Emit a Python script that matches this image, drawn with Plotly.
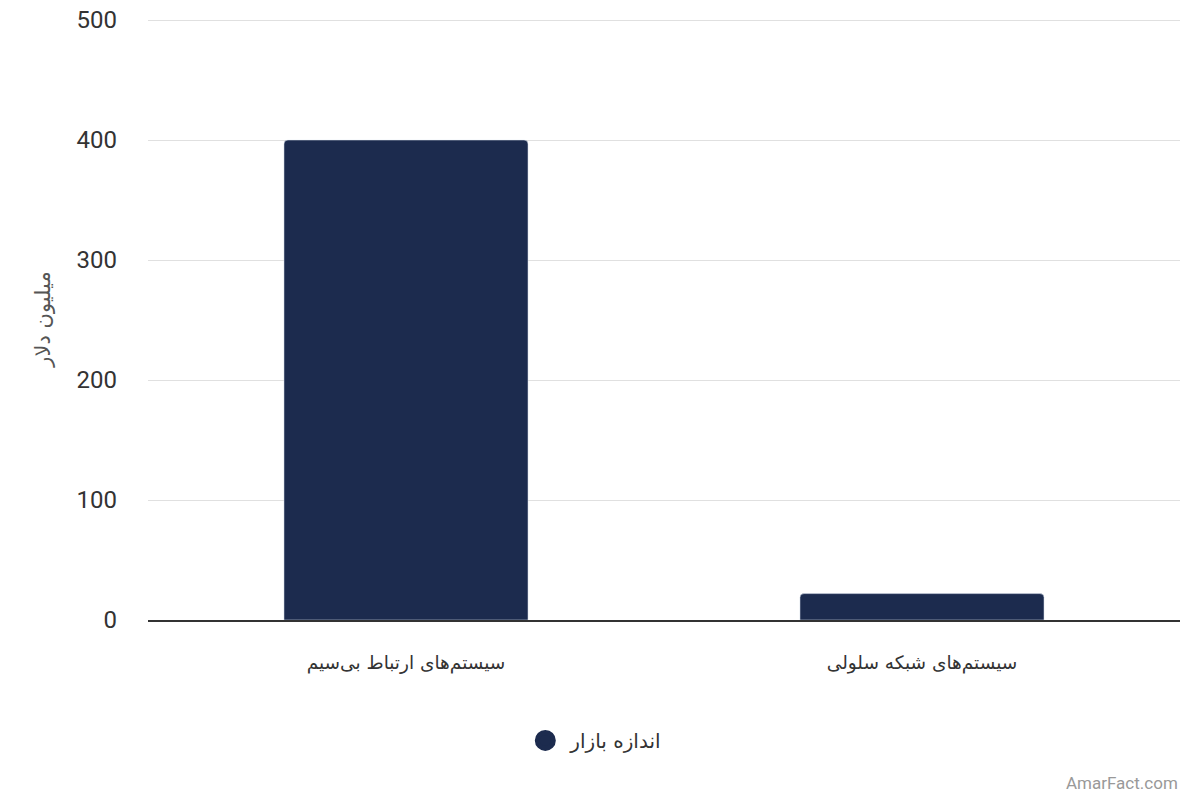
import plotly.graph_objects as go

# data
categories = ["سیستم‌های ارتباط بی‌سیم", "سیستم‌های شبکه سلولی"]
market_size = [400, 22]
series_name = "اندازه بازار"
y_title = "میلیون دلار"
y_ticks = [0, 100, 200, 300, 400, 500]
bar_color = "#1c2b4e"

fig = go.Figure()
fig.add_trace(go.Bar(
    x=categories,
    y=market_size,
    marker={'color': bar_color},
    showlegend=False,
    hoverinfo='x+y'
))
# dummy trace only to get the round legend symbol
fig.add_trace(go.Scatter(
    x=[None],
    y=[None],
    mode='markers',
    name=series_name,
    marker={'color': bar_color, 'size': 16, 'symbol': 'circle',
            'line': {'color': bar_color, 'width': 5}}
))

fig.update_layout(
    width=1200,
    height=800,
    paper_bgcolor='white',
    plot_bgcolor='white',
    margin={'l': 148, 'r': 20, 't': 18, 'b': 180},
    bargap=0.527,
    barcornerradius=4,
    font={'family': 'Roboto, DejaVu Sans, sans-serif', 'color': '#333333'},
    legend={
        'orientation': 'h',
        'x': 0.432,
        'xanchor': 'center',
        'y': -0.2,
        'yanchor': 'middle',
        'itemwidth': 40,
        'font': {'size': 20, 'family': 'DejaVu Sans, sans-serif', 'color': '#333333'}
    },
    xaxis={
        'showgrid': False,
        'showline': True,
        'linecolor': '#333333',
        'linewidth': 1.5,
        'automargin': False,
        'tickfont': {'size': 18.5, 'family': 'DejaVu Sans, sans-serif', 'color': '#333333'},
        'ticklabelstandoff': 25
    },
    yaxis={
        'range': [0, 501.67],
        'tickvals': y_ticks,
        'gridcolor': '#e0e0e0',
        'gridwidth': 1,
        'zeroline': False,
        'automargin': False,
        'tickfont': {'size': 24, 'color': '#333333'},
        'ticklabelstandoff': 30,
        'ticklabeloverflow': 'allow',
        'title': {
            'text': y_title,
            'font': {'size': 21, 'family': 'DejaVu Sans, sans-serif', 'color': '#555555'},
            'standoff': 20
        }
    },
    annotations=[{
        'text': 'AmarFact.com',
        'xref': 'paper',
        'yref': 'paper',
        'x': 1.0,
        'y': -0.27,
        'xanchor': 'right',
        'yanchor': 'middle',
        'showarrow': False,
        'font': {'size': 17, 'color': '#999999'}
    }]
)

# drop the default 8px page margin so the figure sits at the window corner
fig.write_html("out.html",
               config={'displayModeBar': False},
               post_script="document.body.style.margin = '0';")
